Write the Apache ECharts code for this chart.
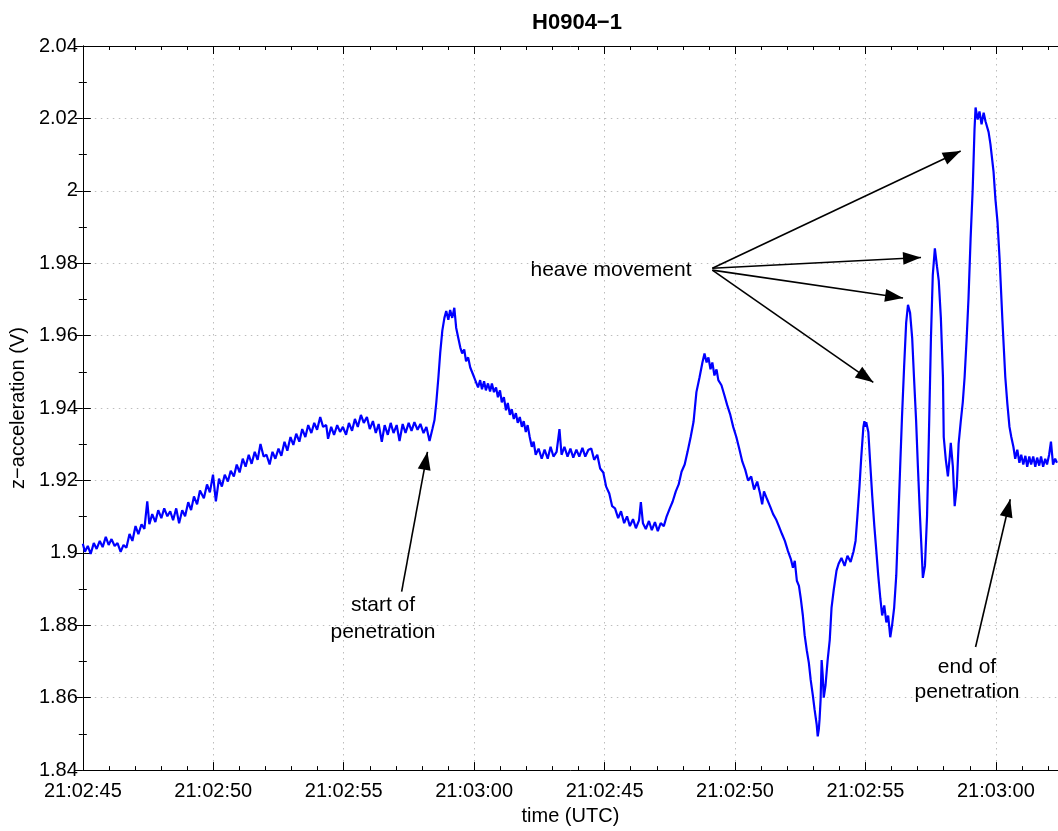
<!DOCTYPE html>
<html>
<head>
<meta charset="utf-8">
<script src="https://cdn.jsdelivr.net/npm/echarts@6/dist/echarts.min.js"></script>
<style>
  html, body { margin: 0; padding: 0; background: #fff; }
  #chart { width: 1058px; height: 831px; }
</style>
</head>
<body>
<div id="chart"></div>
<script>
// 时间 (s, 从第一个刻度算起) 与 z 向加速度 (V)
var timeSec = [
  0.00, 0.08, 0.19, 0.30, 0.42, 0.53, 0.65, 0.76, 0.88, 0.99, 1.10, 1.22, 1.33, 1.45, 1.56, 1.67, 1.79, 1.90,
  2.02, 2.13, 2.25, 2.36, 2.47, 2.55, 2.66, 2.78, 2.89, 3.01, 3.12, 3.24, 3.35, 3.46, 3.58, 3.69, 3.81, 3.92,
  4.04, 4.15, 4.26, 4.38, 4.49, 4.64, 4.76, 4.87, 4.99, 5.10, 5.22, 5.33, 5.44, 5.56, 5.67, 5.79, 5.90, 6.01,
  6.13, 6.24, 6.36, 6.47, 6.59, 6.70, 6.81, 6.93, 7.04, 7.16, 7.27, 7.38, 7.50, 7.61, 7.73, 7.84, 7.96, 8.07,
  8.18, 8.30, 8.41, 8.53, 8.64, 8.76, 8.87, 8.98, 9.10, 9.21, 9.33, 9.40, 9.52, 9.63, 9.75, 9.86,
  9.97, 10.09, 10.20, 10.32, 10.43, 10.54, 10.66, 10.77, 10.89, 11.00, 11.12, 11.23, 11.34, 11.46, 11.57, 11.69,
  11.80, 11.91, 12.03, 12.14, 12.26, 12.37, 12.49, 12.60, 12.71, 12.83, 12.94, 13.06, 13.17, 13.29, 13.40, 13.48,
  13.55, 13.63, 13.70, 13.78, 13.86, 13.93, 14.01, 14.08, 14.16, 14.24, 14.31, 14.39, 14.47, 14.54, 14.62, 14.69,
  14.77, 14.85, 14.92, 15.00, 15.07, 15.15, 15.23, 15.30, 15.38, 15.45, 15.53, 15.61, 15.68, 15.76, 15.84, 15.91,
  15.99, 16.06, 16.14, 16.22, 16.29, 16.37, 16.44, 16.52, 16.60, 16.67, 16.75, 16.83, 16.90, 16.98, 17.05, 17.13,
  17.21, 17.28, 17.36, 17.47, 17.59, 17.70, 17.82, 17.93, 18.04, 18.16, 18.27, 18.35, 18.46, 18.58, 18.69, 18.80,
  18.92, 19.03, 19.15, 19.26, 19.38,
  19.49, 19.60, 19.72, 19.83, 19.95, 20.06, 20.18, 20.29, 20.40, 20.52, 20.63, 20.75, 20.86, 20.97, 21.09, 21.20,
  21.32, 21.39, 21.47, 21.58, 21.70, 21.81, 21.93, 22.04, 22.15, 22.27, 22.38, 22.50, 22.61, 22.73, 22.84, 22.95,
  23.07, 23.18, 23.30, 23.41, 23.52, 23.64, 23.75, 23.83, 23.91, 23.98, 24.06, 24.13, 24.21, 24.29, 24.36, 24.48,
  24.59, 24.70, 24.82, 24.93, 25.05, 25.16, 25.28, 25.39, 25.50, 25.62, 25.73, 25.85, 25.96, 26.04, 26.11, 26.23,
  26.34, 26.46, 26.57, 26.68, 26.80, 26.91, 27.03, 27.14, 27.22, 27.29, 27.37, 27.45, 27.52, 27.60, 27.67, 27.75,
  27.83, 27.90, 27.98, 28.05, 28.13, 28.17, 28.21, 28.24, 28.28, 28.32, 28.36, 28.40, 28.47, 28.55, 28.63, 28.70, 28.78,
  28.89, 28.97, 29.08, 29.20, 29.31, 29.43, 29.54, 29.62, 29.69, 29.77, 29.84, 29.92, 29.96, 30.00, 30.03, 30.11,
  30.19, 30.26, 30.34, 30.41, 30.49, 30.57, 30.64, 30.72, 30.80, 30.87, 30.95, 31.02, 31.10, 31.18, 31.25, 31.33,
  31.40, 31.48, 31.56, 31.63, 31.71, 31.79, 31.86, 31.94, 32.01, 32.09, 32.17, 32.20, 32.28, 32.36, 32.43, 32.51,
  32.58, 32.66, 32.74, 32.81, 32.89, 32.97, 33.00, 33.08, 33.16, 33.23, 33.27, 33.35, 33.42, 33.50, 33.57, 33.65,
  33.73, 33.80, 33.88, 33.95, 34.03, 34.11, 34.18, 34.22, 34.30, 34.37, 34.45, 34.53, 34.60, 34.72, 34.79, 34.91,
  34.98, 35.06, 35.14, 35.25, 35.36, 35.44, 35.52, 35.59, 35.67, 35.74, 35.82, 35.90, 35.97, 36.05, 36.13, 36.20,
  36.28, 36.35, 36.43, 36.51, 36.58, 36.66, 36.73, 36.81, 36.89, 36.96, 37.04, 37.11, 37.19, 37.27, 37.34
];
var accel = [
  1.9025, 1.9003, 1.9019, 1.8997, 1.9027, 1.9011, 1.9033, 1.9016, 1.9044, 1.9022, 1.9038, 1.9019, 1.9027, 1.9003, 1.9022, 1.9014, 1.9052, 1.9033,
  1.9074, 1.9052, 1.9079, 1.9066, 1.9142, 1.9079, 1.9107, 1.9085, 1.9118, 1.9096, 1.9123, 1.9101, 1.9115, 1.9090, 1.9123, 1.9082, 1.9118, 1.9101,
  1.9140, 1.9118, 1.9156, 1.9134, 1.9172, 1.9151, 1.9189, 1.9167, 1.9216, 1.9142, 1.9205, 1.9183, 1.9216, 1.9197, 1.9227, 1.9211, 1.9244, 1.9222,
  1.9260, 1.9238, 1.9271, 1.9246, 1.9279, 1.9257, 1.9301, 1.9266, 1.9271, 1.9244, 1.9279, 1.9260, 1.9288, 1.9268, 1.9307, 1.9282, 1.9320, 1.9298,
  1.9329, 1.9307, 1.9342, 1.9320, 1.9353, 1.9331, 1.9359, 1.9340, 1.9375, 1.9348, 1.9353, 1.9315, 1.9348, 1.9326, 1.9353, 1.9334,
  1.9348, 1.9326, 1.9359, 1.9337, 1.9370, 1.9348, 1.9381, 1.9359, 1.9375, 1.9342, 1.9364, 1.9331, 1.9356, 1.9307, 1.9353, 1.9326,
  1.9359, 1.9331, 1.9353, 1.9309, 1.9356, 1.9331, 1.9359, 1.9337, 1.9361, 1.9340, 1.9356, 1.9331, 1.9348, 1.9309, 1.9342, 1.9367,
  1.9416, 1.9485, 1.9553, 1.9614, 1.9649, 1.9668, 1.9644, 1.9671, 1.9649, 1.9677, 1.9622, 1.9594, 1.9567, 1.9551, 1.9562, 1.9529,
  1.9540, 1.9512, 1.9507, 1.9485, 1.9490, 1.9457, 1.9477, 1.9452, 1.9474, 1.9449, 1.9468, 1.9446, 1.9468, 1.9444, 1.9457, 1.9430,
  1.9449, 1.9416, 1.9430, 1.9394, 1.9414, 1.9381, 1.9397, 1.9370, 1.9386, 1.9359, 1.9375, 1.9348, 1.9364, 1.9334, 1.9353, 1.9320,
  1.9293, 1.9307, 1.9271, 1.9288, 1.9260, 1.9285, 1.9260, 1.9293, 1.9266, 1.9279, 1.9342, 1.9271, 1.9293, 1.9266, 1.9288, 1.9263,
  1.9285, 1.9266, 1.9290, 1.9266, 1.9285,
  1.9288, 1.9257, 1.9271, 1.9233, 1.9222, 1.9183, 1.9164, 1.9129, 1.9123, 1.9096, 1.9115, 1.9082, 1.9101, 1.9074, 1.9093, 1.9068,
  1.9090, 1.9140, 1.9082, 1.9066, 1.9088, 1.9063, 1.9085, 1.9060, 1.9082, 1.9074, 1.9101, 1.9123, 1.9142, 1.9170, 1.9189, 1.9224,
  1.9244, 1.9279, 1.9320, 1.9362, 1.9444, 1.9485, 1.9526, 1.9551, 1.9526, 1.9540, 1.9507, 1.9526, 1.9490, 1.9507, 1.9477, 1.9463,
  1.9436, 1.9408, 1.9381, 1.9348, 1.9320, 1.9288, 1.9252, 1.9230, 1.9200, 1.9211, 1.9175, 1.9197, 1.9164, 1.9134, 1.9170, 1.9148,
  1.9129, 1.9107, 1.9093, 1.9074, 1.9052, 1.9033, 1.9005, 1.8983, 1.8959, 1.8978, 1.8923, 1.8909, 1.8874, 1.8827, 1.8772, 1.8731,
  1.8696, 1.8649, 1.8608, 1.8567, 1.8526, 1.8493, 1.8512, 1.8540, 1.8594, 1.8704, 1.8663, 1.8600, 1.8635, 1.8704, 1.8759, 1.8849, 1.8896,
  1.8951, 1.8970, 1.8986, 1.8964, 1.8992, 1.8975, 1.9003, 1.9033, 1.9101, 1.9183, 1.9266, 1.9348, 1.9364, 1.9348, 1.9361, 1.9334,
  1.9238, 1.9156, 1.9074, 1.9011, 1.8937, 1.8874, 1.8827, 1.8855, 1.8808, 1.8827, 1.8767, 1.8800, 1.8849, 1.8937, 1.9074, 1.9238,
  1.9375, 1.9512, 1.9636, 1.9685, 1.9663, 1.9594, 1.9485, 1.9367, 1.9238, 1.9101, 1.8978, 1.8931, 1.8964, 1.9101, 1.9320, 1.9594,
  1.9767, 1.9841, 1.9792, 1.9751, 1.9649, 1.9485, 1.9320, 1.9257, 1.9211, 1.9266, 1.9304, 1.9238, 1.9129, 1.9183, 1.9301, 1.9361,
  1.9416, 1.9485, 1.9594, 1.9704, 1.9868, 2.0005, 2.0170, 2.0230, 2.0197, 2.0219, 2.0184, 2.0216, 2.0192, 2.0162, 2.0129, 2.0052,
  1.9978, 1.9915, 1.9814, 1.9641, 1.9485, 1.9411, 1.9348, 1.9320, 1.9293, 1.9260, 1.9285, 1.9249, 1.9271, 1.9244, 1.9268, 1.9238,
  1.9266, 1.9244, 1.9266, 1.9238, 1.9263, 1.9241, 1.9266, 1.9238, 1.9260, 1.9244, 1.9271, 1.9307, 1.9244, 1.9260, 1.9249
];
// 刻度标签 (原图两段时间拼接, 标签重复)
var tickLabels = ['21:02:45', '21:02:50', '21:02:55', '21:03:00', '21:02:45', '21:02:50', '21:02:55', '21:03:00'];
// 标注箭头 [起点, 终点] (时间, 电压)
var arrows = [
  [[24.13, 1.9786], [33.65, 2.0110]],
  [[24.13, 1.9786], [32.13, 1.9816]],
  [[24.13, 1.9781], [31.44, 1.9704]],
  [[24.13, 1.9781], [30.30, 1.9471]],
  [[12.22, 1.8893], [13.21, 1.9279]],
  [[34.22, 1.8740], [35.55, 1.9148]]
];

var FONT = '"Liberation Sans", Arial, Helvetica, sans-serif';
var xMax = 37.38;

var chart = echarts.init(document.getElementById('chart'));

var tickLine = { color: '#000', width: 1 };
var gridLine = { color: '#bdbdbd', width: 1, type: [1.5, 4.5] };

var option = {
  animation: false,
  backgroundColor: '#fff',
  title: {
    text: 'H0904\u22121',
    left: 572,
    top: 7,
    textAlign: 'center',
    textStyle: { fontFamily: FONT, fontSize: 22, fontWeight: 'bold', color: '#000' }
  },
  grid: { left: 81, right: -5, top: 46, bottom: 55 },
  xAxis: [
    {
      type: 'value', min: 0, max: xMax, interval: 5, position: 'bottom',
      name: 'time (UTC)', nameLocation: 'middle', nameGap: 35,
      nameTextStyle: { fontFamily: FONT, fontSize: 20, color: '#000' },
      axisLine: { lineStyle: tickLine },
      axisTick: { inside: true, length: 8, lineStyle: tickLine },
      minorTick: { show: true, splitNumber: 5, length: 4, lineStyle: tickLine },
      axisLabel: {
        margin: 11, color: '#000', fontFamily: FONT, fontSize: 20, showMaxLabel: false,
        formatter: function (v) {
          var i = Math.round(v / 5);
          return Math.abs(v - i * 5) < 1e-6 && tickLabels[i] ? tickLabels[i] : '';
        }
      },
      splitLine: { show: true, lineStyle: gridLine }
    },
    {
      type: 'value', min: 0, max: xMax, interval: 5, position: 'top',
      axisLine: { lineStyle: tickLine },
      axisTick: { inside: true, length: 8, lineStyle: tickLine },
      minorTick: { show: true, splitNumber: 5, length: 4, lineStyle: tickLine },
      axisLabel: { show: false },
      splitLine: { show: false }
    }
  ],
  yAxis: [
    {
      type: 'value', min: 1.84, max: 2.04, interval: 0.02, position: 'left',
      name: 'z\u2212acceleration (V)', nameLocation: 'middle', nameGap: 50,
      nameTextStyle: { fontFamily: FONT, fontSize: 20, color: '#000' },
      axisLine: { show: true, lineStyle: tickLine },
      axisTick: { show: true, inside: true, length: 8, lineStyle: tickLine },
      minorTick: { show: true, splitNumber: 2, length: 4, lineStyle: tickLine },
      axisLabel: { margin: 5, color: '#000', fontFamily: FONT, fontSize: 20 },
      splitLine: { show: true, lineStyle: gridLine }
    },
    {
      type: 'value', min: 1.84, max: 2.04, interval: 0.02, position: 'right',
      axisLine: { show: true, lineStyle: tickLine },
      axisTick: { show: true, inside: true, length: 8, lineStyle: tickLine },
      minorTick: { show: true, splitNumber: 2, length: 4, lineStyle: tickLine },
      axisLabel: { show: false },
      splitLine: { show: false }
    }
  ],
  graphic: [
    { type: 'text', x: 611, y: 270, style: { text: 'heave movement', font: '21px ' + FONT, fill: '#000', textAlign: 'center', textVerticalAlign: 'middle' } },
    { type: 'text', x: 383, y: 619, style: { text: 'start of\npenetration', font: '21px ' + FONT, lineHeight: 27, fill: '#000', textAlign: 'center', textVerticalAlign: 'middle' } },
    { type: 'text', x: 967, y: 680, style: { text: 'end of\npenetration', font: '21px ' + FONT, lineHeight: 25, fill: '#000', textAlign: 'center', textVerticalAlign: 'middle' } }
  ],
  series: [
    {
      type: 'line',
      xAxisIndex: 0,
      yAxisIndex: 0,
      data: timeSec.map(function (t, i) { return [t, accel[i]]; }),
      showSymbol: false,
      lineStyle: { color: '#0000ff', width: 2.2 },
      z: 3,
      markLine: {
        silent: true,
        animation: false,
        symbol: ['none', 'triangle'],
        symbolSize: [13, 18],
        symbolOffset: [[0, 0], [0, 9]],
        label: { show: false },
        lineStyle: { color: '#000', width: 1.6, type: 'solid' },
        emphasis: { disabled: true },
        data: arrows.map(function (a) { return [{ coord: a[0] }, { coord: a[1] }]; })
      }
    }
  ]
};

chart.setOption(option);
</script>
</body>
</html>
